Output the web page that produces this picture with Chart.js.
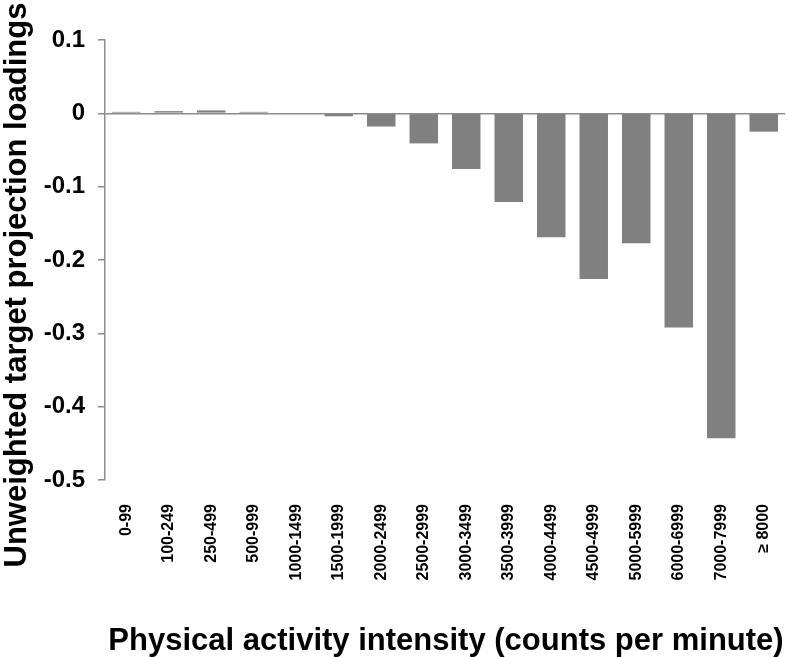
<!DOCTYPE html>
<html>
<head>
<meta charset="utf-8">
<script src="https://cdn.jsdelivr.net/npm/chart.js@4.4.1/dist/chart.umd.min.js"></script>
<style>
    html, body { margin: 0; padding: 0; background: #fff; }
    #wrap { width: 787px; height: 657px; position: relative; }
</style>
</head>
<body>
<div id="wrap"><canvas id="chart"></canvas></div>
<script>
const categories = ['0-99', '100-249', '250-499', '500-999', '1000-1499', '1500-1999', '2000-2499',
    '2500-2999', '3000-3499', '3500-3999', '4000-4499', '4500-4999', '5000-5999', '6000-6999',
    '7000-7999', '\u2265 8000'];
const loadings = [0.002, 0.003, 0.004, 0.002, 0.0, -0.004, -0.018, -0.041, -0.076, -0.121,
    -0.169, -0.226, -0.177, -0.292, -0.443, -0.025];
const yTicks = [0.1, 0, -0.1, -0.2, -0.3, -0.4, -0.5];

const yTitle = 'Unweighted target projection loadings';
const xTitle = 'Physical activity intensity (counts per minute)';

// axis titles drawn by hand so they sit where the original puts them
const titlesPlugin = {
    id: 'titles',
    afterDraw(chart) {
        const ctx = chart.ctx;
        ctx.save();
        ctx.fillStyle = '#000';
        ctx.textAlign = 'center';
        ctx.textBaseline = 'alphabetic';
        ctx.font = 'bold 31px "Liberation Sans", Arial, sans-serif';
        ctx.fillText(xTitle, 446, 650);
        ctx.translate(26, 285);
        ctx.rotate(-Math.PI / 2);
        ctx.fillText(yTitle, 0, 0);
        ctx.restore();
    }
};

new Chart(document.getElementById('chart'), {
    type: 'bar',
    data: {
        labels: categories,
        datasets: [{
            data: loadings,
            backgroundColor: '#808080',
            borderWidth: 0,
            categoryPercentage: 1,
            barPercentage: 0.67,
        }]
    },
    options: {
        responsive: true,
        maintainAspectRatio: false,
        animation: false,
        plugins: { legend: { display: false }, tooltip: { enabled: false } },
        layout: { padding: { top: 40, right: 2, left: 0, bottom: 0 } },
        scales: {
            x: {
                grid: { display: false },
                border: { display: false },
                ticks: {
                    color: '#000',
                    font: { family: '"Liberation Sans", Arial, sans-serif', size: 16, weight: 'bold' },
                    minRotation: 90,
                    maxRotation: 90,
                    padding: 16,
                    autoSkip: false,
                },
                afterFit(scale) {
                    scale.height = 177;
                    scale.paddingLeft = 0;
                    scale.paddingRight = 0;
                }
            },
            y: {
                min: -0.5,
                max: 0.1,
                afterBuildTicks(scale) { scale.ticks = yTicks.map(v => ({ value: v })); },
                grid: {
                    color: ctx => (ctx.tick && ctx.tick.value === 0 ? '#8c8c8c' : 'rgba(0,0,0,0)'),
                    tickColor: '#8c8c8c',
                    tickLength: 7,
                    lineWidth: 1.5,
                },
                border: { display: true, color: '#8c8c8c', width: 1.5 },
                ticks: {
                    color: '#000',
                    font: { family: '"Liberation Sans", Arial, sans-serif', size: 24, weight: 'bold' },
                    padding: 13,
                    callback: v => (v === 0 ? '0' : String(Math.round(v * 10) / 10)),
                },
                afterFit(scale) { scale.width = 105; }
            }
        }
    },
    plugins: [titlesPlugin]
});
</script>
</body>
</html>
